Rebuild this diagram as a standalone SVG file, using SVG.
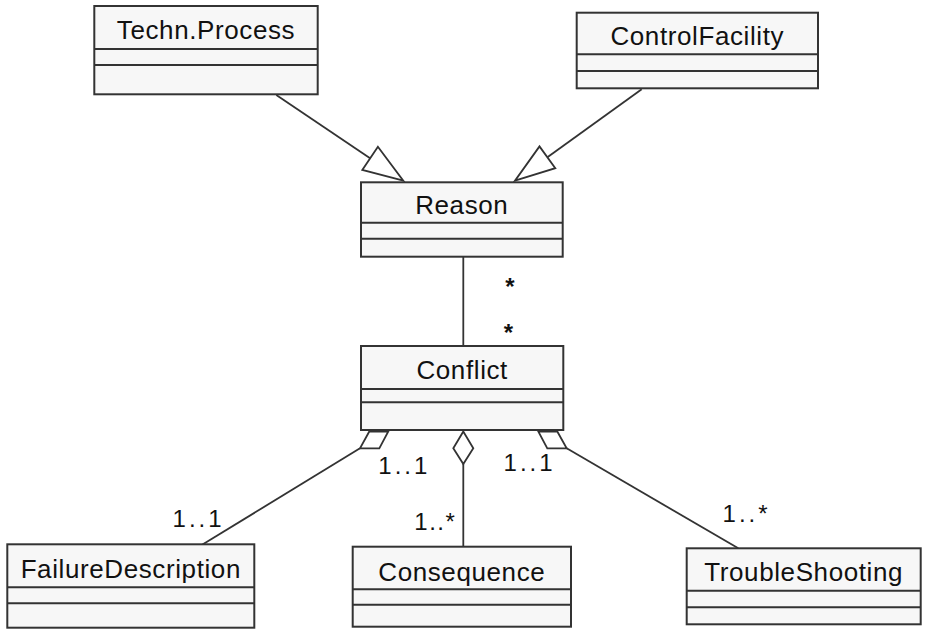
<svg xmlns="http://www.w3.org/2000/svg" width="925" height="631" viewBox="0 0 925 631">
<style>
.box{fill:#f7f7f7;stroke:#333;stroke-width:2}
.div{stroke:#333;stroke-width:2}
.name{font-family:"Liberation Sans",Arial,sans-serif;font-size:26px;fill:#111;text-anchor:middle;letter-spacing:0.6px}
.lbl{font-family:"Liberation Sans",Arial,sans-serif;font-size:24px;fill:#111;letter-spacing:3px}
.star{font-family:"Liberation Sans",Arial,sans-serif;font-size:24px;font-weight:bold;fill:#111;text-anchor:middle}
.ln{stroke:#333;stroke-width:1.8;fill:none}
.hd{stroke:#333;stroke-width:1.8;fill:#fff}
</style>
<g id="connectors">
<line class="ln" x1="276.3" y1="95" x2="370.1" y2="158.3"/>
<polygon class="hd" points="403.3,180.7 362.3,169.9 377.9,146.7"/>
<line class="ln" x1="641.7" y1="89.3" x2="547.4" y2="157.3"/>
<polygon class="hd" points="515,180.7 555.3,168.2 539.5,146.4"/>
<line class="ln" x1="463.3" y1="257" x2="463.3" y2="346"/>
<line class="ln" x1="201.7" y1="545" x2="360" y2="448.3"/>
<polygon class="hd" points="360,448.3 379.3,448.3 388.3,431.5 369.3,431.5"/>
<line class="ln" x1="463.3" y1="464" x2="463.3" y2="546.7"/>
<polygon class="hd" points="463.3,431.5 453.3,448.3 463.3,464 473.3,448.3"/>
<line class="ln" x1="566.7" y1="448.3" x2="738.3" y2="548.3"/>
<polygon class="hd" points="538.3,431.5 557.3,431.5 566.7,448.3 547.3,448.3"/>
<text class="star" x="510" y="294.5">*</text>
<text class="star" x="508.3" y="340.5">*</text>
<text class="lbl" x="378.3" y="474">1..1</text>
<text class="lbl" x="503.6" y="470.7">1..1</text>
<text class="lbl" x="172.6" y="526.7">1..1</text>
<text class="lbl" x="414.3" y="530" style="letter-spacing:1.5px">1..*</text>
<text class="lbl" x="722.6" y="521.7">1..*</text>
</g>
<g id="techn-process">
<rect class="box" x="94.3" y="6" width="223.4" height="88.3"/>
<line class="div" x1="94.3" y1="49" x2="317.7" y2="49"/>
<line class="div" x1="94.3" y1="65" x2="317.7" y2="65"/>
<text class="name" x="206" y="39.3">Techn.Process</text>
</g>
<g id="control-facility">
<rect class="box" x="576.7" y="12.7" width="241.3" height="75.6"/>
<line class="div" x1="576.7" y1="54.3" x2="818" y2="54.3"/>
<line class="div" x1="576.7" y1="71" x2="818" y2="71"/>
<text class="name" x="697.3" y="45">ControlFacility</text>
</g>
<g id="reason">
<rect class="box" x="361" y="182.3" width="201.7" height="74.4"/>
<line class="div" x1="361" y1="222.7" x2="562.7" y2="222.7"/>
<line class="div" x1="361" y1="238.7" x2="562.7" y2="238.7"/>
<text class="name" x="461.8" y="214">Reason</text>
</g>
<g id="conflict">
<rect class="box" x="361" y="346" width="202.3" height="84"/>
<line class="div" x1="361" y1="389" x2="563.3" y2="389"/>
<line class="div" x1="361" y1="402.3" x2="563.3" y2="402.3"/>
<text class="name" x="462.2" y="379">Conflict</text>
</g>
<g id="failure-description">
<rect class="box" x="7.3" y="544.3" width="247" height="83.4"/>
<line class="div" x1="7.3" y1="587.3" x2="254.3" y2="587.3"/>
<line class="div" x1="7.3" y1="603.3" x2="254.3" y2="603.3"/>
<text class="name" x="130.8" y="578.3">FailureDescription</text>
</g>
<g id="consequence">
<rect class="box" x="352.7" y="546.7" width="218.3" height="80"/>
<line class="div" x1="352.7" y1="589.3" x2="571" y2="589.3"/>
<line class="div" x1="352.7" y1="604.7" x2="571" y2="604.7"/>
<text class="name" x="461.8" y="580.7">Consequence</text>
</g>
<g id="trouble-shooting">
<rect class="box" x="686.7" y="548.3" width="234" height="76"/>
<line class="div" x1="686.7" y1="590.7" x2="920.7" y2="590.7"/>
<line class="div" x1="686.7" y1="607.3" x2="920.7" y2="607.3"/>
<text class="name" x="803.7" y="581">TroubleShooting</text>
</g>
</svg>
